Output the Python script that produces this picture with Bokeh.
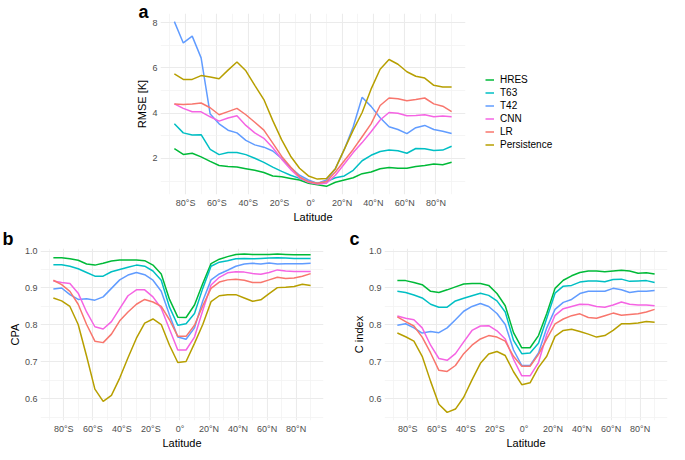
from bokeh.plotting import figure
from bokeh.models import (Range1d, FixedTicker, CustomJSTickFormatter, NumeralTickFormatter,
                          Legend, LegendItem, Title)
from bokeh.layouts import column, row
from bokeh.embed import file_html
from bokeh.resources import INLINE

# ---------------- data ----------------
latitude = [-87.2, -81.5, -75.8, -70.1, -64.3, -58.6, -52.9, -47.2, -41.5, -35.8, -30.0, -24.3,
            -18.6, -12.9, -7.2, -1.5, 4.2, 10.0, 15.7, 21.4, 27.1, 32.8, 38.5, 44.3,
            50.0, 55.7, 61.4, 67.1, 72.8, 78.6, 84.3, 90.0]

series = ["HRES", "T63", "T42", "CNN", "LR", "Persistence"]
colors = ["#00BA38", "#00BFC4", "#619CFF", "#F564E3", "#F8766D", "#B79F00"]

# panel a: RMSE [K]
rmse_hres = [2.44, 2.18, 2.23, 2.07, 1.87, 1.69, 1.65, 1.62, 1.55, 1.48, 1.38, 1.23, 1.19, 1.12, 1.05, 0.91,
             0.84, 0.77, 0.95, 1.05, 1.15, 1.33, 1.40, 1.55, 1.60, 1.57, 1.57, 1.65, 1.69, 1.76, 1.72, 1.83]
rmse_t63 = [3.53, 3.13, 3.04, 3.05, 2.40, 2.17, 2.26, 2.26, 2.17, 2.01, 1.83, 1.62, 1.43, 1.26, 1.12, 0.98,
            0.91, 0.98, 1.15, 1.23, 1.48, 1.90, 2.14, 2.31, 2.37, 2.34, 2.23, 2.44, 2.43, 2.35, 2.37, 2.54]
rmse_t42 = [8.04, 7.10, 7.40, 6.44, 3.96, 3.53, 3.25, 3.13, 2.80, 2.60, 2.50, 2.33, 2.00, 1.60, 1.26, 1.05,
            0.90, 1.05, 1.55, 2.40, 3.40, 4.70, 4.30, 3.80, 3.40, 3.28, 3.10, 3.36, 3.46, 3.28, 3.20, 3.10]
rmse_cnn = [4.41, 4.21, 4.06, 4.06, 3.84, 3.65, 3.79, 3.89, 3.46, 3.13, 2.89, 2.47, 1.97, 1.52, 1.15, 0.95,
            0.87, 0.91, 1.26, 1.76, 2.26, 2.70, 3.18, 3.70, 4.03, 4.00, 3.89, 3.90, 3.93, 3.84, 3.87, 3.84]
rmse_lr = [4.41, 4.38, 4.41, 4.45, 4.24, 3.93, 4.07, 4.21, 3.93, 3.60, 3.25, 2.68, 2.09, 1.62, 1.19, 0.98,
           0.91, 0.98, 1.40, 1.90, 2.40, 2.96, 3.53, 4.34, 4.67, 4.64, 4.55, 4.60, 4.67, 4.41, 4.31, 4.07]
rmse_persistence = [5.73, 5.49, 5.49, 5.66, 5.60, 5.52, 5.90, 6.26, 5.87, 5.23, 4.60, 3.67, 2.82, 2.10, 1.57, 1.23,
                    1.09, 1.12, 1.55, 2.40, 3.25, 4.03, 5.06, 5.94, 6.37, 6.16, 5.83, 5.63, 5.55, 5.23, 5.16, 5.16]

# panel b: CPA
cpa_hres = [.982, .982, .979, .975, .965, .962, .967, .973, .976, .976, .976, .974, .962, .938, .869, .821,
            .820, .854, .912, .966, .978, .985, .991, .992, .991, .991, .991, .992, .991, .990, .990, .990]
cpa_t63 = [.963, .963, .959, .952, .942, .932, .932, .944, .950, .956, .962, .959, .946, .921, .848, .799,
           .803, .831, .899, .959, .970, .974, .979, .980, .979, .980, .981, .982, .981, .980, .980, .980]
cpa_t42 = [.897, .900, .882, .869, .871, .867, .876, .899, .922, .935, .942, .936, .921, .891, .827, .767,
           .761, .792, .865, .922, .938, .948, .959, .965, .967, .965, .968, .965, .966, .966, .966, .967]
cpa_cnn = [.919, .915, .912, .886, .835, .795, .789, .809, .844, .879, .895, .895, .876, .845, .788, .732,
           .732, .767, .839, .908, .929, .941, .944, .943, .939, .937, .942, .949, .946, .945, .945, .945]
cpa_lr = [.921, .909, .891, .856, .801, .756, .752, .775, .811, .835, .856, .869, .862, .850, .814, .769,
          .769, .799, .852, .899, .916, .922, .924, .921, .915, .915, .922, .929, .926, .927, .932, .939]
cpa_persistence = [.873, .865, .850, .801, .715, .626, .593, .609, .656, .711, .764, .805, .816, .801, .745, .698,
                   .701, .750, .801, .863, .879, .882, .882, .873, .864, .868, .885, .901, .902, .904, .910, .907]

# panel c: C index
ci_hres = [.920, .920, .915, .909, .891, .888, .895, .903, .911, .912, .912, .907, .885, .852, .779, .738,
           .738, .771, .831, .899, .921, .933, .942, .946, .946, .944, .946, .948, .946, .940, .941, .938]
ci_t63 = [.891, .888, .881, .873, .856, .848, .848, .865, .872, .879, .886, .880, .865, .835, .758, .722,
          .724, .750, .818, .886, .905, .907, .916, .919, .919, .917, .923, .924, .918, .919, .920, .915]
ci_t42 = [.799, .803, .792, .778, .782, .779, .792, .814, .837, .850, .858, .850, .831, .801, .732, .690,
          .690, .724, .792, .842, .861, .869, .885, .891, .891, .891, .899, .895, .888, .891, .891, .893]
ci_cnn = [.824, .818, .814, .792, .745, .709, .704, .722, .754, .785, .797, .798, .784, .762, .707, .662,
          .662, .698, .774, .826, .844, .850, .856, .855, .850, .848, .854, .862, .856, .854, .854, .852]
ci_lr = [.822, .809, .797, .767, .724, .677, .674, .690, .722, .745, .762, .771, .767, .756, .715, .688,
         .688, .720, .762, .803, .816, .825, .830, .820, .818, .825, .832, .826, .828, .830, .835, .842]
ci_persistence = [.778, .768, .756, .715, .647, .585, .563, .572, .604, .651, .696, .721, .728, .717, .673, .638,
                  .643, .685, .715, .769, .785, .788, .782, .775, .767, .771, .785, .803, .803, .805, .809, .807]

lat_ticks = [-80, -60, -40, -20, 0, 20, 40, 60, 80]
lat_minor = [-90, -70, -50, -30, -10, 10, 30, 50, 70, 90]
rmse_ticks = [2, 4, 6, 8]
rmse_minor = [1, 3, 5, 7]
score_ticks = [0.6, 0.7, 0.8, 0.9, 1.0]
score_minor = [0.55, 0.65, 0.75, 0.85, 0.95]

FONT = "Liberation Sans"
LAT_FMT = CustomJSTickFormatter(code="""
if (tick == 0) { return "0\u00b0"; }
return Math.abs(tick) + "\u00b0" + (tick < 0 ? "S" : "N");
""")


def make_fig(fw, fh, y_range, yticks, yminor, ylabel, borders):
    l, r, t, b = borders
    p = figure(frame_width=fw, frame_height=fh, x_range=Range1d(-96.06, 98.86), y_range=y_range,
               output_backend="svg", toolbar_location=None,
               min_border_left=l, min_border_right=r, min_border_top=t, min_border_bottom=b)
    p.outline_line_color = None
    p.background_fill_color = "white"
    p.border_fill_color = "white"
    p.xaxis.ticker = FixedTicker(ticks=lat_ticks, minor_ticks=lat_minor)
    p.yaxis.ticker = FixedTicker(ticks=yticks, minor_ticks=yminor)
    p.xaxis.formatter = LAT_FMT
    p.xaxis.axis_label = "Latitude"
    p.yaxis.axis_label = ylabel
    for ax in (p.xaxis[0], p.yaxis[0]):
        ax.axis_line_color = None
        ax.major_tick_line_color = None
        ax.minor_tick_line_color = None
        ax.major_tick_out = 0
        ax.major_tick_in = 0
        ax.minor_tick_out = 0
        ax.minor_tick_in = 0
        ax.major_label_text_font = FONT
        ax.major_label_text_font_size = "9px"
        ax.major_label_text_color = "#4D4D4D"
        ax.axis_label_text_font = FONT
        ax.axis_label_text_font_size = "11px"
        ax.axis_label_text_font_style = "normal"
        ax.axis_label_text_color = "black"
    p.xaxis.major_label_standoff = 3
    p.xaxis.axis_label_standoff = 0
    p.yaxis.major_label_standoff = 3
    p.yaxis.axis_label_standoff = 1
    for g in (p.xgrid[0], p.ygrid[0]):
        g.grid_line_color = "#EBEBEB"
        g.grid_line_width = 1.1
        g.minor_grid_line_color = "#F3F3F3"
        g.minor_grid_line_width = 0.8
    return p


def letter_title(p, letter, offset, standoff):
    p.add_layout(Title(text=letter, align="left", offset=offset, standoff=standoff,
                       text_font=FONT, text_font_size="18px", text_font_style="bold",
                       text_color="black"), "above")


# ---------------- panel a ----------------
pa = make_fig(305, 181, Range1d(0.41, 8.40), rmse_ticks, rmse_minor, "RMSE [K]", (160, 204, 13, 27))
a_values = [rmse_hres, rmse_t63, rmse_t42, rmse_cnn, rmse_lr, rmse_persistence]
items = []
for name, col, vals in zip(series, colors, a_values):
    r = pa.line(latitude, vals, line_color=col, line_width=1.5)
    items.append(LegendItem(label=name, renderers=[r]))
legend = Legend(items=items, location=(20, 43), orientation="vertical",
                border_line_color=None, background_fill_alpha=0,
                label_text_font=FONT, label_text_font_size="10px", label_text_color="black",
                glyph_width=9, glyph_height=13, label_height=13, label_standoff=6,
                spacing=0, padding=0, margin=0)
pa.add_layout(legend, "right")
letter_title(pa, "a", -22, -16)

# ---------------- panel b ----------------
pb = make_fig(283, 172, Range1d(0.541, 1.007), score_ticks, score_minor, "CPA", (40, 19, 23, 27))
b_values = [cpa_hres, cpa_t63, cpa_t42, cpa_cnn, cpa_lr, cpa_persistence]
for name, col, vals in zip(series, colors, b_values):
    pb.line(latitude, vals, line_color=col, line_width=1.5)
pb.yaxis.formatter = NumeralTickFormatter(format="0.0")
letter_title(pb, "b", -38, 0)

# ---------------- panel c ----------------
pc = make_fig(283, 172, Range1d(0.541, 1.007), score_ticks, score_minor, "C index", (42, 2, 23, 27))
c_values = [ci_hres, ci_t63, ci_t42, ci_cnn, ci_lr, ci_persistence]
for name, col, vals in zip(series, colors, c_values):
    pc.line(latitude, vals, line_color=col, line_width=1.5)
pc.yaxis.formatter = NumeralTickFormatter(format="0.0")
letter_title(pc, "c", -35, 0)

layout = column(pa, row(pb, pc))
open("out.html", "w").write(file_html(layout, INLINE))
